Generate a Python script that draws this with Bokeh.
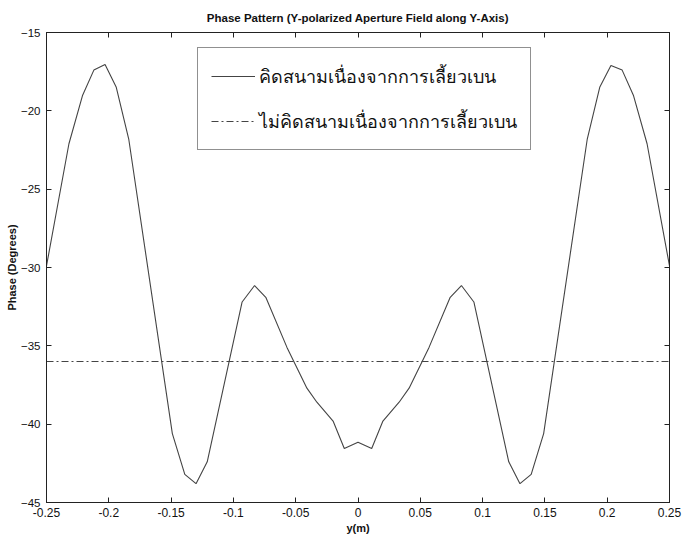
from bokeh.plotting import figure
from bokeh.models import Legend, LegendItem, LinearAxis, FixedTicker, Range1d
from bokeh.embed import file_html
from bokeh.resources import INLINE

# ---- data ----
y_pos = [-0.250, -0.232, -0.221, -0.212, -0.203, -0.194, -0.184, -0.149, -0.139, -0.130,
         -0.121, -0.093, -0.083, -0.074, -0.057, -0.041, -0.033, -0.020, -0.011, 0.000,
         0.011, 0.020, 0.033, 0.041, 0.057, 0.074, 0.083, 0.093, 0.121, 0.130,
         0.139, 0.149, 0.184, 0.194, 0.203, 0.212, 0.221, 0.232, 0.250]
phase_diff = [-29.9, -22.1, -19.0, -17.4, -17.05, -18.5, -21.8, -40.6, -43.2, -43.8,
              -42.4, -32.2, -31.15, -31.9, -35.1, -37.7, -38.6, -39.8, -41.55, -41.15,
              -41.55, -39.8, -38.6, -37.7, -35.1, -31.9, -31.15, -32.2, -42.4, -43.8,
              -43.2, -40.6, -21.8, -18.5, -17.1, -17.4, -19.0, -22.1, -29.9]
flat_x = [-0.25, 0.25]
flat_phase = [-36.0, -36.0]

x_ticks = [-0.25, -0.2, -0.15, -0.1, -0.05, 0.0, 0.05, 0.1, 0.15, 0.2, 0.25]
x_tick_labels = ["-0.25", "-0.2", "-0.15", "-0.1", "-0.05", "0", "0.05", "0.1", "0.15", "0.2", "0.25"]
y_ticks = [-45, -40, -35, -30, -25, -20, -15]

label_diff = "คิดสนามเนื่องจากการเลี้ยวเบน"
label_flat = "ไม่คิดสนามเนื่องจากการเลี้ยวเบน"
title_text = "Phase Pattern (Y-polarized Aperture Field along Y-Axis)"

AX = "#222222"
FONT = "Liberation Sans"

p = figure(width=684, height=536, output_backend="svg", toolbar_location=None,
           x_range=Range1d(-0.25, 0.25), y_range=Range1d(-45, -15),
           min_border_left=46, min_border_right=15, min_border_top=32, min_border_bottom=34)
p.background_fill_color = "white"
p.border_fill_color = "white"
p.xgrid.visible = False
p.ygrid.visible = False
p.outline_line_color = AX
p.outline_line_width = 1

p.title.text = title_text
p.title.align = "center"
p.title.vertical_align = "top"
p.title.text_font = FONT
p.title.text_font_size = "11.5px"
p.title.text_font_style = "bold"
p.title.text_color = "#111111"
p.title.standoff = 13

r1 = p.line(y_pos, phase_diff, line_color="#444444", line_width=1.1)
r2 = p.line(flat_x, flat_phase, line_color="#444444", line_width=1.1, line_dash="7 3 2 3")


def style_axis(ax, labels=True, size="12px"):
    ax.major_tick_in = 5
    ax.major_tick_out = 0
    ax.minor_tick_in = 0
    ax.minor_tick_out = 0
    ax.axis_line_color = AX
    ax.major_tick_line_color = AX
    if labels:
        ax.major_label_text_font = FONT
        ax.major_label_text_font_size = size
        ax.major_label_text_color = "#111111"
        ax.major_label_standoff = 5
        ax.axis_label_text_font = FONT
        ax.axis_label_text_font_size = "11px"
        ax.axis_label_text_font_style = "bold"
        ax.axis_label_text_color = "#111111"
    else:
        ax.major_label_text_font_size = "1px"
        ax.major_label_text_color = None
        ax.major_label_standoff = 0


xa = p.xaxis[0]
xa.ticker = FixedTicker(ticks=x_ticks)
xa.major_label_overrides = {t: l for t, l in zip(x_ticks, x_tick_labels)}
xa.axis_label = "y(m)"
style_axis(xa)
xa.axis_label_standoff = 2

ya = p.yaxis[0]
ya.ticker = FixedTicker(ticks=y_ticks)
ya.axis_label = "Phase (Degrees)"
style_axis(ya, size="11.5px")
ya.major_label_standoff = 6
ya.axis_label_standoff = 0

top = LinearAxis(ticker=FixedTicker(ticks=x_ticks))
style_axis(top, labels=False)
p.add_layout(top, "above")
right = LinearAxis(ticker=FixedTicker(ticks=y_ticks))
style_axis(right, labels=False)
p.add_layout(right, "right")

legend = Legend(items=[LegendItem(label=label_diff, renderers=[r1]),
                       LegendItem(label=label_flat, renderers=[r2])],
                location=(151, 352))
legend.label_text_font = "Noto Sans"
legend.label_text_font_size = "18px"
legend.label_text_color = "#111111"
legend.glyph_width = 44
legend.glyph_height = 30
legend.label_height = 30
legend.label_standoff = 4
legend.spacing = 15
legend.padding = 13
legend.margin = 0
legend.border_line_color = AX
legend.border_line_width = 1
legend.background_fill_color = "white"
legend.background_fill_alpha = 1
p.add_layout(legend, "center")

open("out.html", "w").write(file_html(p, INLINE))
